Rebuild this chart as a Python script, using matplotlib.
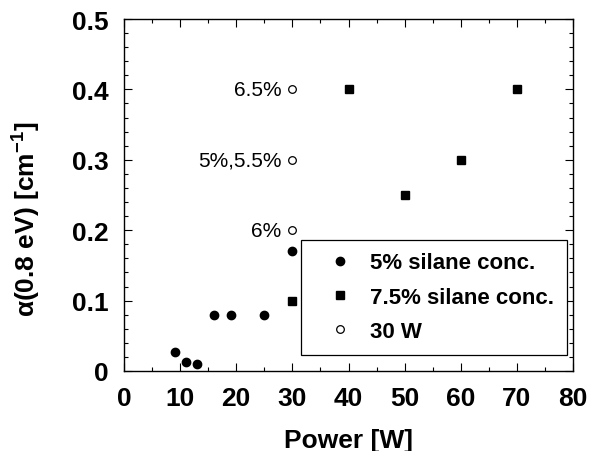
import matplotlib
matplotlib.use("Agg")
import matplotlib.pyplot as plt
from matplotlib.ticker import MultipleLocator

plt.rcParams["font.family"] = ["Liberation Sans", "DejaVu Sans"]
plt.rcParams["mathtext.fontset"] = "custom"
plt.rcParams["mathtext.rm"] = "Liberation Sans:bold"
plt.rcParams["mathtext.bf"] = "Liberation Sans:bold"

# 5% silane concentration series
p5 = [9, 11, 13, 16, 19, 25, 30]
a5 = [0.027, 0.013, 0.01, 0.08, 0.08, 0.08, 0.17]

# 7.5% silane concentration series
p75 = [30, 40, 50, 60, 70]
a75 = [0.1, 0.4, 0.25, 0.3, 0.4]

# 30 W series, annotated by silane concentration
p30 = [30, 30, 30]
a30 = [0.4, 0.3, 0.2]
lab30 = ["6.5%", "5%,5.5%", "6%"]

fig = plt.figure(figsize=(5.9, 4.52), dpi=100)
ax = fig.add_axes([124 / 590, 1 - 372 / 452, 449 / 590, 352 / 452])

ax.plot(p5, a5, "o", color="black", ms=6, label="5% silane conc.")
ax.plot(p75, a75, "s", color="black", ms=6, label="7.5% silane conc.")
ax.plot(p30, a30, "o", mfc="white", mec="black", mew=0.9, ms=5.5, label="30 W")

for x, y, s in zip(p30, a30, lab30):
    ax.annotate(s, (x, y), xytext=(-8, 0), textcoords="offset points",
                ha="right", va="center", fontsize=15)

ax.set_xlim(0, 80)
ax.set_ylim(0, 0.5)
ax.xaxis.set_major_locator(MultipleLocator(10))
ax.xaxis.set_minor_locator(MultipleLocator(5))
ax.yaxis.set_major_locator(MultipleLocator(0.1))
ax.yaxis.set_minor_locator(MultipleLocator(0.02))
ax.set_yticks([0, 0.1, 0.2, 0.3, 0.4, 0.5])
ax.set_yticklabels(["0", "0.1", "0.2", "0.3", "0.4", "0.5"])

ax.tick_params(which="both", direction="in", top=True, right=True, width=0.8)
ax.tick_params(which="major", length=6, labelsize=19)
ax.tick_params(which="minor", length=3)
ax.tick_params(axis="x", which="major", pad=11)
ax.tick_params(axis="y", which="major", pad=11)
for lbl in ax.get_xticklabels() + ax.get_yticklabels():
    lbl.set_fontweight("bold")
for sp in ax.spines.values():
    sp.set_linewidth(1.0)

ax.set_xlabel("Power [W]", fontsize=19, fontweight="bold", labelpad=13)
ax.set_ylabel("α(0.8 eV) [cm$^{-1}$]", fontsize=19, fontweight="bold")
ax.yaxis.set_label_coords((42 - 124) / 449, (372 - 219) / 352)

leg = ax.legend(loc="lower right", bbox_to_anchor=(567 / 590, 1 - 356 / 452),
                bbox_transform=fig.transFigure, prop={"weight": "bold", "size": 16},
                frameon=True, fancybox=False, edgecolor="black", framealpha=1,
                handletextpad=0.22, borderpad=0.58, labelspacing=0.6, handlelength=2.3,
                borderaxespad=0)
leg.get_frame().set_linewidth(0.9)

fig.savefig("out.png", dpi=100)
